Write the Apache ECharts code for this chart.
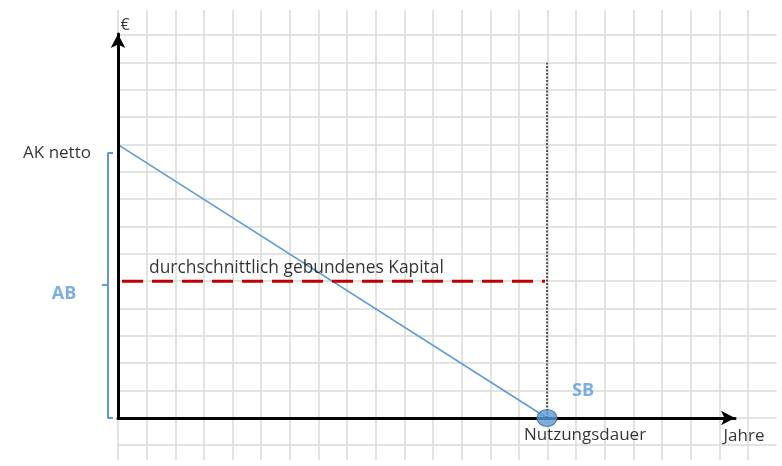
<!DOCTYPE html>
<html><head><meta charset="utf-8">
<script src="https://cdn.jsdelivr.net/npm/echarts@6/dist/echarts.min.js"></script>
<style>html,body{margin:0;padding:0;background:#fff}#c{width:782px;height:466px}</style>
</head><body><div id="c"></div>
<script>
// ---- data ----
const jahre = [0, 15];                 // Start, Nutzungsdauer
const buchwert = [10, 0];              // AK netto -> SB
const durchschnittKapital = [5, 5];    // durchschnittlich gebundenes Kapital
const nutzungsdauerLinie = [0, 13];    // Höhe der senkrechten Linie
const texte = {
  ak: 'AK netto', ab: 'AB', sb: 'SB', nd: 'Nutzungsdauer',
  dk: 'durchschnittlich gebundenes Kapital', x: 'Jahre', y: '€'
};
// graph paper extent (grid units)
const papierX = [0, 23];
const papierY = [-1, 14];

const FONT = '"Open Sans", "DejaVu Sans", sans-serif';
const TXT = '#000';
const BLUE = '#5B9BD5';
const UX = 28.6, UY = 27.33;
const X_MIN = -4, X_MAX = 617 / UX, Y_MAX = 384 / UY;

const chart = echarts.init(document.getElementById('c'), null, {renderer: 'canvas'});

function textPoint(coord, text, offset, style) {
  return {
    type: 'scatter', xAxisIndex: 3, yAxisIndex: 3, clip: false, silent: true, z: 20,
    symbol: 'circle', symbolSize: 1, itemStyle: {color: 'transparent'},
    data: [coord],
    label: Object.assign({
      show: true, position: 'inside', offset: offset, formatter: text,
      fontFamily: FONT, fontSize: 17, color: TXT, align: 'center', verticalAlign: 'middle'
    }, style || {})
  };
}

const hidden = {show: false};
const gridLine = {show: true, showMaxLine: false, lineStyle: {color: '#d6dcd6', width: 1.5}};

const braceTop = buchwert[0] - 0.3;
const braceMid = durchschnittKapital[0] - 0.13;

const option = {
  animation: false,
  backgroundColor: '#fff',
  grid: [
    {left: 118, right: 5.4, top: 10, bottom: 6, outerBoundsMode: 'none', containLabel: false},
    {left: 118, right: 5.4, top: 35, bottom: 21, outerBoundsMode: 'none', containLabel: false},
    {left: 118, right: 47, top: 34, bottom: 48, outerBoundsMode: 'none', containLabel: false},
    {left: 118 + X_MIN * UX, right: 47, top: 34, bottom: 48, outerBoundsMode: 'none', containLabel: false}
  ],
  xAxis: [
    {gridIndex: 0, type: 'value', min: papierX[0], max: papierX[1], interval: 1,
      axisLine: hidden, axisTick: hidden, axisLabel: hidden, splitLine: gridLine, z: 0},
    {gridIndex: 1, type: 'value', min: papierX[0], max: papierX[1], show: false},
    {gridIndex: 2, type: 'value', min: 0, max: X_MAX,
      axisLine: {show: true, onZero: false, lineStyle: {color: '#000', width: 3},
        symbol: ['none', 'arrow'], symbolSize: [11, 14]},
      axisTick: hidden, axisLabel: hidden, splitLine: hidden, z: 5},
    {gridIndex: 3, type: 'value', min: X_MIN, max: X_MAX, show: false}
  ],
  yAxis: [
    {gridIndex: 0, type: 'value', min: 0, max: 1, show: false},
    {gridIndex: 1, type: 'value', min: papierY[0], max: papierY[1], interval: 1,
      axisLine: hidden, axisTick: hidden, axisLabel: hidden,
      splitLine: {show: true, showMinLine: true, showMaxLine: true, lineStyle: {color: '#d6dcd6', width: 1.5}}, z: 0},
    {gridIndex: 2, type: 'value', min: 0, max: Y_MAX,
      axisLine: {show: true, onZero: false, lineStyle: {color: '#000', width: 3},
        symbol: ['none', 'arrow'], symbolSize: [11, 14]},
      axisTick: hidden, axisLabel: hidden, splitLine: hidden, z: 5},
    {gridIndex: 3, type: 'value', min: 0, max: Y_MAX, show: false}
  ],
  series: [
    {type: 'line', xAxisIndex: 2, yAxisIndex: 2, symbol: 'none', z: 4, silent: true,
      data: jahre.map((x, i) => [x, buchwert[i]]),
      lineStyle: {color: BLUE, width: 1.5}},
    {type: 'line', xAxisIndex: 2, yAxisIndex: 2, symbol: 'none', z: 4, silent: true,
      data: [[jahre[0], durchschnittKapital[0]], [jahre[1] - 0.07, durchschnittKapital[1]]],
      lineStyle: {color: '#C00000', width: 3, type: [21, 9], dashOffset: -4}},
    {type: 'line', xAxisIndex: 2, yAxisIndex: 2, symbol: 'none', z: 4, silent: true,
      data: nutzungsdauerLinie.map(y => [jahre[1], y]),
      lineStyle: {color: '#222', width: 1.5, type: [2, 1.5]}},
    {type: 'line', xAxisIndex: 3, yAxisIndex: 3, symbol: 'none', z: 4, silent: true, clip: false,
      data: [[-0.175, braceTop], [-0.35, braceTop], [-0.35, braceMid], [-0.56, braceMid],
             [-0.35, braceMid], [-0.35, buchwert[1]], [-0.175, buchwert[1]]],
      lineStyle: {color: BLUE, width: 2}},
    {type: 'scatter', xAxisIndex: 2, yAxisIndex: 2, clip: false, silent: true, z: 10,
      symbol: 'circle', symbolSize: [20, 17],
      data: [[jahre[1], buchwert[1]]],
      itemStyle: {color: BLUE, borderColor: '#41719C', borderWidth: 1.2}},
    textPoint([jahre[0], buchwert[0]], texte.ak, [-61, 8]),
    textPoint([jahre[0], durchschnittKapital[0]], texte.ab, [-54, 13],
      {color: BLUE, fontWeight: 'bold', fontSize: 18}),
    textPoint([jahre[0], durchschnittKapital[0]], texte.dk, [31, -13], {align: 'left', fontSize: 17.4}),
    textPoint([jahre[1], buchwert[1]], texte.sb, [36, -27],
      {color: BLUE, fontWeight: 'bold', fontSize: 18}),
    textPoint([jahre[1], buchwert[1]], texte.nd, [38, 17]),
    textPoint([X_MAX, 0], texte.x, [9, 18]),
    textPoint([0, Y_MAX], texte.y, [7, -9], {fontSize: 16})
  ]
};
chart.setOption(option);
</script>
</body></html>
